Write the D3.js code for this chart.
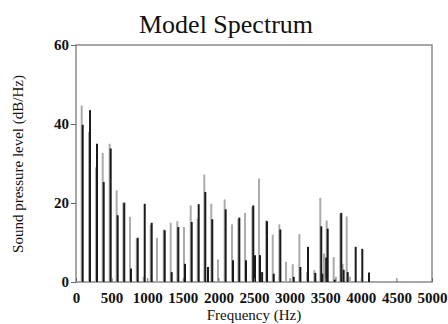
<!DOCTYPE html>
<html><head><meta charset="utf-8">
<script src="https://cdn.jsdelivr.net/npm/d3@7"></script>
<style>body{margin:0;background:#fff}svg{display:block}</style>
</head><body>
<svg id="c" width="448" height="324"></svg>
<script>
const xTicks = [0,500,1000,1500,2000,2500,3000,3500,4000,4500,5000];
const yTicks = [0,20,40,60];
const grayFreq = [80,183,281,375,473,571,664,758,853,951,1049,1138,1232,1330,1423,1517,1611,1709,1802,1900,1994,2088,2191,2280,2374,2476,2570,2669,2763,2856,2950,3044,3137,3244,3347,3431,3483,3521,3619,3652,3712,3745,3802,3848];
const grayVal  = [44.7,38,29,32.7,35,23.2,20,16.5,11,1.3,14.5,11.2,13.3,15,15.4,13.9,19.4,16,27.2,19.8,5.7,20.9,14.6,16,17.5,19,26.2,15.6,12,14.6,5.1,4.5,12.1,2.5,3.0,21.3,7.2,15.6,6.3,1.3,17.3,4.6,16.6,1.3];
const blackFreq = [80,183,281,375,473,571,664,758,853,951,1049,1232,1330,1423,1517,1611,1709,1802,1840,1900,2088,2191,2280,2374,2476,2500,2570,2600,2669,2763,2856,3044,3137,3244,3347,3431,3445,3500,3521,3619,3712,3745,3802,3914,4007,4101];
const blackVal  = [39.8,43.5,35,25.3,33.8,16.9,20.1,3.4,11.2,19.8,15,13.1,2.5,13.9,4.6,15.2,19.7,22.8,3.8,15.9,18.4,5.5,16.3,5.5,19.4,6.8,6.8,2.5,15.4,2.1,13.3,1.3,3.8,8.9,2.3,14.1,2.1,6.2,13.5,0.6,17.5,3.1,2.5,8.9,8.4,2.4];

const svg = d3.select("#c");
const x = d3.scaleLinear().domain([0,5000]).range([76,432]);
const y = d3.scaleLinear().domain([0,60]).range([282,45]);
const serif = "'Liberation Serif','Times New Roman',serif";

// frame
svg.append("rect").attr("x",x(0)).attr("y",y(60)).attr("width",x(5000)-x(0)).attr("height",y(0)-y(60))
  .attr("fill","none").attr("stroke","#8a8a8a").attr("stroke-width",1.5);

// stems
svg.append("g").selectAll("line").data(grayFreq.map((f,i)=>({f,v:grayVal[i]}))).join("line")
  .attr("x1",d=>x(d.f)).attr("x2",d=>x(d.f)).attr("y1",y(0)).attr("y2",d=>y(d.v))
  .attr("stroke","#ababab").attr("stroke-width",2);
svg.append("g").selectAll("line").data(blackFreq.map((f,i)=>({f,v:blackVal[i]}))).join("line")
  .attr("x1",d=>x(d.f)+1).attr("x2",d=>x(d.f)+1).attr("y1",y(0)).attr("y2",d=>y(d.v))
  .attr("stroke","#1a1a1a").attr("stroke-width",2);

// axes
const xa = svg.append("g").attr("transform",`translate(0,${y(0)})`)
  .call(d3.axisBottom(x).tickValues(xTicks).tickFormat(d3.format("d")).tickSizeInner(-4).tickSizeOuter(0).tickPadding(10));
xa.select(".domain").remove();
xa.selectAll("line").attr("stroke","#666");
xa.selectAll("text").attr("font-family",serif).attr("font-size",15).attr("font-weight","bold").attr("fill","#111");

const ya = svg.append("g").attr("transform",`translate(${x(0)},0)`)
  .call(d3.axisLeft(y).tickValues(yTicks).tickFormat(d3.format("d")).tickSizeInner(5).tickSizeOuter(0).tickPadding(2));
ya.select(".domain").remove();
ya.selectAll("line").attr("stroke","#666");
ya.selectAll("text").attr("font-family",serif).attr("font-size",15).attr("font-weight","bold").attr("fill","#111");

// titles
svg.append("text").attr("x",226).attr("y",33).attr("text-anchor","middle")
  .attr("font-family",serif).attr("font-size",26).attr("fill","#111").text("Model Spectrum");
svg.append("text").attr("x",254).attr("y",320).attr("text-anchor","middle")
  .attr("font-family",serif).attr("font-size",15).attr("fill","#111").text("Frequency (Hz)");
svg.append("text").attr("transform","translate(23,164) rotate(-90)").attr("text-anchor","middle")
  .attr("font-family",serif).attr("font-size",15).attr("fill","#111").text("Sound pressure level (dB/Hz)");
</script>
</body></html>
